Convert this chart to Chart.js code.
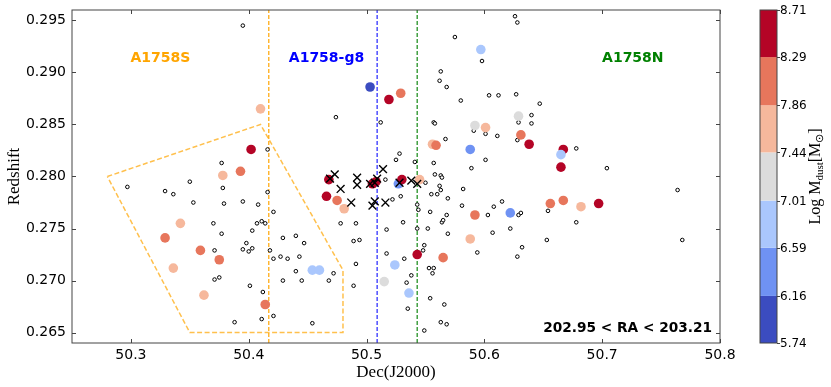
<!DOCTYPE html>
<html>
<head>
<meta charset="utf-8">
<script src="https://cdn.jsdelivr.net/npm/chart.js@4.4.0/dist/chart.umd.min.js"></script>
<style>
  body { margin: 0; background: #fff; }
  #wrap { width: 831px; height: 387px; }
</style>
</head>
<body>
<div id="wrap"><canvas id="chart" width="831" height="387"></canvas></div>
<script>
// --- Axes ---
const xTicks = [50.3, 50.4, 50.5, 50.6, 50.7, 50.8];
const yTicks = [0.265, 0.270, 0.275, 0.280, 0.285, 0.290, 0.295];
const xRange = [50.25, 50.8];
const yRange = [0.264, 0.296];

// --- Colorbar (Log Mdust bins) ---
const cbLevels = [5.74, 6.16, 6.59, 7.01, 7.44, 7.86, 8.29, 8.71];
const cbColors = ['#3b4cc0', '#6f92f3', '#aac7fd', '#dcdcdc', '#f6b89c', '#e7765c', '#b40426'];

// --- Dusty galaxies (colored by Log Mdust) ---
const dustDec = [50.410, 50.402, 50.378, 50.393, 50.342, 50.329, 50.359, 50.375, 50.336, 50.362,
  50.414, 50.454, 50.460, 50.503, 50.519, 50.529, 50.597, 50.592, 50.601, 50.629,
  50.631, 50.638, 50.556, 50.559, 50.588, 50.667, 50.665, 50.665, 50.468, 50.505,
  50.508, 50.527, 50.530, 50.545, 50.466, 50.475, 50.481, 50.524, 50.515, 50.536,
  50.543, 50.565, 50.592, 50.588, 50.622, 50.656, 50.667, 50.682, 50.697];
const dustZ = [0.2865, 0.2826, 0.2801, 0.2805, 0.2755, 0.2741, 0.2729, 0.2720, 0.2712, 0.2686,
  0.2677, 0.2710, 0.2710, 0.2886, 0.2874, 0.2880, 0.2922, 0.2849, 0.2847, 0.2858,
  0.2840, 0.2831, 0.2831, 0.2830, 0.2826, 0.2826, 0.2821, 0.2809, 0.2797, 0.2793,
  0.2795, 0.2793, 0.2797, 0.2797, 0.2781, 0.2777, 0.2769, 0.2715, 0.2699, 0.2688,
  0.2725, 0.2722, 0.2763, 0.2740, 0.2765, 0.2774, 0.2777, 0.2771, 0.2774];
const dustMass = [7.62, 8.45, 7.58, 8.05, 7.70, 8.02, 8.10, 7.98, 7.55, 7.66,
  8.12, 6.80, 6.75, 5.92, 8.52, 8.00, 6.82, 7.20, 7.64, 7.25,
  8.08, 8.48, 7.60, 8.01, 6.40, 8.55, 6.85, 8.50, 8.47, 8.51,
  8.40, 6.35, 8.46, 7.62, 8.53, 8.03, 7.61, 6.78, 7.22, 6.81,
  8.49, 7.99, 8.11, 7.63, 6.42, 8.02, 8.07, 7.59, 8.55];

// --- Other cluster members (open circles) ---
const memberDec = [50.395, 50.416, 50.377, 50.297, 50.329, 50.336, 50.350, 50.378, 50.416, 50.353,
  50.379, 50.395, 50.408, 50.421, 50.370, 50.377, 50.407, 50.411, 50.414, 50.403,
  50.398, 50.395, 50.400, 50.403, 50.371, 50.418, 50.421, 50.429, 50.440, 50.447,
  50.427, 50.433, 50.443, 50.371, 50.375, 50.440, 50.429, 50.445, 50.401, 50.412,
  50.421, 50.411, 50.388, 50.454,
  50.626, 50.628, 50.575, 50.598, 50.563, 50.562, 50.568, 50.580, 50.604, 50.612,
  50.627, 50.647, 50.474, 50.512, 50.557, 50.558, 50.591, 50.601, 50.611, 50.629,
  50.640, 50.640, 50.628, 50.567, 50.601, 50.528, 50.525, 50.541, 50.557, 50.589,
  50.558, 50.563, 50.564, 50.550, 50.562, 50.563, 50.555, 50.560, 50.582, 50.569,
  50.516, 50.529, 50.522,
  50.478, 50.491, 50.489, 50.494, 50.491, 50.472, 50.468, 50.489, 50.517, 50.531,
  50.517, 50.532, 50.538, 50.534, 50.535, 50.543, 50.544, 50.543, 50.548, 50.549,
  50.554, 50.552, 50.564, 50.565, 50.568, 50.569, 50.553, 50.557, 50.556, 50.554,
  50.566, 50.563, 50.568, 50.549, 50.581, 50.594, 50.603, 50.608, 50.615, 50.629,
  50.631, 50.607, 50.622, 50.632, 50.628, 50.654, 50.653,
  50.678, 50.764, 50.768, 50.678, 50.704, 50.666];
const memberZ = [0.2945, 0.2826, 0.2813, 0.2790, 0.2786, 0.2783, 0.2795, 0.2789, 0.2785, 0.2775,
  0.2774, 0.2776, 0.2773, 0.2766, 0.2755, 0.2745, 0.2755, 0.2757, 0.2755, 0.2748,
  0.2736, 0.2730, 0.2728, 0.2731, 0.2729, 0.2729, 0.2721, 0.2741, 0.2743, 0.2736,
  0.2723, 0.2721, 0.2723, 0.2701, 0.2703, 0.2709, 0.2700, 0.2700, 0.2695, 0.2689,
  0.2666, 0.2663, 0.2660, 0.2659,
  0.2954, 0.2948, 0.2934, 0.2911, 0.2901, 0.2892, 0.2886, 0.2873, 0.2878, 0.2878,
  0.2879, 0.2870, 0.2857, 0.2852, 0.2852, 0.2851, 0.2844, 0.2841, 0.2839, 0.2852,
  0.2859, 0.2851, 0.2835, 0.2836, 0.2816, 0.2822, 0.2816, 0.2814, 0.2813, 0.2808,
  0.2802, 0.2801, 0.2799, 0.2794, 0.2791, 0.2787, 0.2783, 0.2783, 0.2788, 0.2779,
  0.2797, 0.2781, 0.2778,
  0.2755, 0.2755, 0.2738, 0.2739, 0.2716, 0.2707, 0.2700, 0.2695, 0.2749, 0.2756,
  0.2726, 0.2721, 0.2705, 0.2698, 0.2673, 0.2773, 0.2768, 0.2750, 0.2729, 0.2734,
  0.2766, 0.2750, 0.2756, 0.2758, 0.2763, 0.2745, 0.2712, 0.2712, 0.2707, 0.2683,
  0.2677, 0.2660, 0.2658, 0.2652, 0.2772, 0.2727, 0.2763, 0.2771, 0.2776, 0.2763,
  0.2765, 0.2746, 0.2750, 0.2732, 0.2723, 0.2767, 0.2739,
  0.2756, 0.2787, 0.2739, 0.2827, 0.2808, 0.2820];

// --- A1758-g8 group members (crosses) ---
const crossDec = [50.469, 50.473, 50.478, 50.492, 50.492, 50.503, 50.507, 50.509,
  50.514, 50.507, 50.505, 50.487, 50.516, 50.528, 50.538, 50.543];
const crossZ = [0.2798, 0.2802, 0.2788, 0.2799, 0.2792, 0.2793, 0.2794, 0.2798,
  0.2807, 0.2776, 0.2772, 0.2775, 0.2775, 0.2794, 0.2796, 0.2793];

// --- A1758S selection polygon ---
const regionDec = [50.28, 50.41, 50.48, 50.48, 50.35, 50.28];
const regionZ = [0.280, 0.285, 0.271, 0.265, 0.265, 0.280];

// --- Subcluster centres (vertical dashed lines) ---
const centreDec = [50.417, 50.509, 50.543];
const centreColors = ['rgba(255,165,0,0.85)', 'rgba(0,0,255,0.75)', 'rgba(0,128,0,0.8)'];

// --- Annotations ---
const labelText = ['A1758S', 'A1758-g8', 'A1758N'];
const labelDec = [50.325, 50.466, 50.726];
const labelZ = [0.2914, 0.2914, 0.2914];
const labelColors = ['#ffa500', '#0000ff', '#008000'];
const raNote = '202.95 < RA < 203.21';

function massColor(m) {
  for (let i = 0; i < cbColors.length; i++) {
    if (m < cbLevels[i + 1]) return cbColors[i];
  }
  return cbColors[cbColors.length - 1];
}

const zip = (xs, ys) => xs.map((x, i) => ({ x: x, y: ys[i] }));

const datasets = [
  {
    label: 'groups',
    data: zip(crossDec, crossZ),
    pointStyle: 'crossRot',
    pointRadius: 5.5,
    borderColor: '#000',
    borderWidth: 1.4,
    order: 0
  },
  {
    label: 'dust',
    data: zip(dustDec, dustZ),
    pointRadius: 4.8,
    borderWidth: 0,
    backgroundColor: dustMass.map(massColor),
    order: 1
  },
  {
    label: 'members',
    data: zip(memberDec, memberZ),
    pointRadius: 1.8,
    borderWidth: 1,
    borderColor: '#000',
    backgroundColor: '#fff',
    order: 2
  },
  {
    type: 'line',
    label: 'A1758S region',
    data: zip(regionDec, regionZ),
    showLine: true,
    borderColor: 'rgba(255,165,0,0.7)',
    borderWidth: 1.5,
    borderDash: [5, 2.5],
    pointRadius: 0,
    fill: false,
    tension: 0,
    order: 3
  }
];

centreDec.forEach((d, i) => {
  datasets.push({
    type: 'line',
    label: 'centre ' + i,
    data: [{ x: d, y: yRange[0] }, { x: d, y: yRange[1] }],
    showLine: true,
    borderColor: centreColors[i],
    borderWidth: 1.4,
    borderDash: [4, 2],
    pointRadius: 0,
    fill: false,
    order: 4
  });
});

const frameColor = '#444';

const decor = {
  id: 'decor',
  afterDraw(chart) {
    const { ctx, chartArea: a, scales } = chart;
    const xs = scales.x, ys = scales.y, cb = scales.cb;
    ctx.save();

    // frame + inward ticks on all four sides
    ctx.strokeStyle = frameColor;
    ctx.lineWidth = 1;
    ctx.strokeRect(a.left, a.top, a.right - a.left, a.bottom - a.top);
    ctx.beginPath();
    xTicks.forEach(v => {
      const px = Math.round(xs.getPixelForValue(v)) + 0.5;
      ctx.moveTo(px, a.bottom); ctx.lineTo(px, a.bottom - 4);
      ctx.moveTo(px, a.top); ctx.lineTo(px, a.top + 4);
    });
    yTicks.forEach(v => {
      const py = Math.round(ys.getPixelForValue(v)) + 0.5;
      ctx.moveTo(a.left, py); ctx.lineTo(a.left + 4, py);
      ctx.moveTo(a.right, py); ctx.lineTo(a.right - 4, py);
    });
    ctx.stroke();

    // subcluster names
    ctx.font = 'bold 14px "DejaVu Sans"';
    ctx.textAlign = 'center';
    ctx.textBaseline = 'middle';
    labelText.forEach((t, i) => {
      ctx.fillStyle = labelColors[i];
      ctx.fillText(t, xs.getPixelForValue(labelDec[i]), ys.getPixelForValue(labelZ[i]));
    });

    // RA range note
    ctx.fillStyle = '#000';
    ctx.font = 'bold 13.7px "DejaVu Sans"';
    ctx.textAlign = 'right';
    ctx.fillText(raNote, a.right - 8, a.bottom - 15);

    // colorbar
    const cbLeft = 760, cbWidth = 17;
    for (let i = 0; i < cbColors.length; i++) {
      const y1 = cb.getPixelForValue(cbLevels[i]);
      const y2 = cb.getPixelForValue(cbLevels[i + 1]);
      ctx.fillStyle = cbColors[i];
      ctx.fillRect(cbLeft, y2, cbWidth, y1 - y2);
    }
    const cbTop = cb.getPixelForValue(cbLevels[cbLevels.length - 1]);
    const cbBot = cb.getPixelForValue(cbLevels[0]);
    ctx.strokeStyle = frameColor;
    ctx.strokeRect(cbLeft, cbTop, cbWidth, cbBot - cbTop);
    ctx.beginPath();
    cbLevels.forEach(v => {
      const py = Math.round(cb.getPixelForValue(v)) + 0.5;
      ctx.moveTo(cbLeft + cbWidth, py); ctx.lineTo(cbLeft + cbWidth + 3, py);
    });
    ctx.stroke();
    ctx.fillStyle = '#000';
    ctx.font = '12px "DejaVu Sans"';
    ctx.textAlign = 'left';
    ctx.textBaseline = 'middle';
    cbLevels.forEach(v => {
      ctx.fillText(v.toFixed(2), cbLeft + cbWidth + 3, cb.getPixelForValue(v) + 1);
    });

    // colorbar label: Log M_dust [M_sun], rotated
    ctx.translate(816, (cbTop + cbBot) / 2);
    ctx.rotate(-Math.PI / 2);
    const parts = [
      ['Log M', 16, 0], ['dust', 11, 4], ['[M', 16, 0], ['\u2299', 11, 4], [']', 16, 0]
    ];
    let total = 0;
    parts.forEach(p => {
      ctx.font = p[1] + 'px "Liberation Serif"';
      total += ctx.measureText(p[0]).width;
    });
    let cx = -total / 2;
    ctx.textAlign = 'left';
    parts.forEach(p => {
      ctx.font = p[1] + 'px "Liberation Serif"';
      ctx.fillText(p[0], cx, p[2]);
      cx += ctx.measureText(p[0]).width;
    });

    ctx.restore();
  }
};

new Chart(document.getElementById('chart'), {
  type: 'scatter',
  data: { datasets: datasets },
  options: {
    responsive: false,
    animation: false,
    layout: { padding: { left: 0, right: 111, top: 10, bottom: 0 } },
    plugins: { legend: { display: false }, tooltip: { enabled: false } },
    scales: {
      x: {
        type: 'linear',
        min: xRange[0],
        max: xRange[1],
        afterBuildTicks: s => { s.ticks = xTicks.map(v => ({ value: v })); },
        afterFit: s => { s.height = 44; s.paddingLeft = 0; s.paddingRight = 0; },
        grid: { display: false, drawTicks: false },
        border: { display: false },
        ticks: {
          padding: 4,
          color: '#000',
          font: { family: 'DejaVu Sans', size: 14 },
          callback: v => v.toFixed(1)
        },
        title: {
          display: true,
          text: 'Dec(J2000)',
          color: '#000',
          font: { family: 'Liberation Serif', size: 17 },
          padding: { top: 0, bottom: 4 }
        }
      },
      y: {
        type: 'linear',
        min: yRange[0],
        max: yRange[1],
        afterBuildTicks: s => { s.ticks = yTicks.map(v => ({ value: v })); },
        afterFit: s => { s.width = 72; s.paddingTop = 0; s.paddingBottom = 0; },
        grid: { display: false, drawTicks: false },
        border: { display: false },
        ticks: {
          padding: 6,
          color: '#000',
          font: { family: 'DejaVu Sans', size: 14 },
          callback: v => v.toFixed(3)
        },
        title: {
          display: true,
          text: 'Redshift',
          color: '#000',
          font: { family: 'Liberation Serif', size: 17 },
          padding: { top: 4, bottom: 0 }
        }
      },
      cb: {
        type: 'linear',
        axis: 'y',
        position: 'right',
        display: false,
        min: cbLevels[0],
        max: cbLevels[cbLevels.length - 1]
      }
    }
  },
  plugins: [decor]
});
</script>
</body>
</html>
